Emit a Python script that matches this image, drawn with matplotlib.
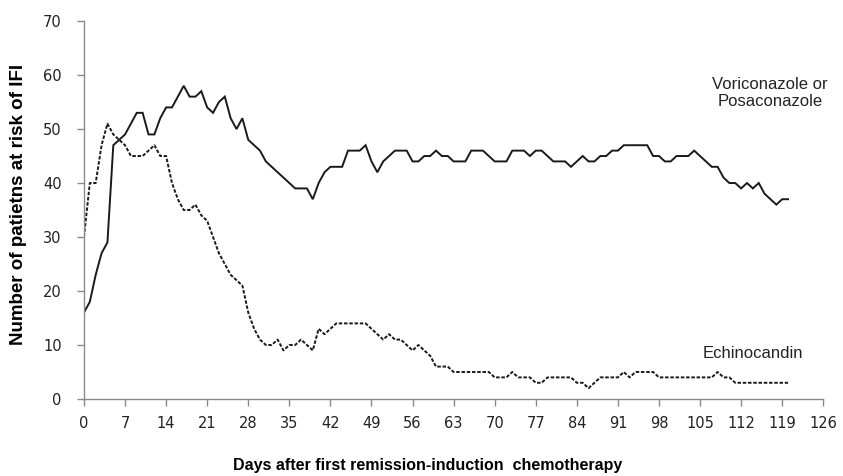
import matplotlib
matplotlib.use("Agg")
import matplotlib.pyplot as plt
import numpy as np

days = list(range(0, 121))

vori_posa = [16, 18, 23, 27, 29, 47, 48, 49, 51, 53,
             53, 49, 49, 52, 54, 54, 56, 58, 56, 56,
             57, 54, 53, 55, 56, 52, 50, 52, 48, 47,
             46, 44, 43, 42, 41, 40, 39, 39, 39, 37,
             40, 42, 43, 43, 43, 46, 46, 46, 47, 44,
             42, 44, 45, 46, 46, 46, 44, 44, 45, 45,
             46, 45, 45, 44, 44, 44, 46, 46, 46, 45,
             44, 44, 44, 46, 46, 46, 45, 46, 46, 45,
             44, 44, 44, 43, 44, 45, 44, 44, 45, 45,
             46, 46, 47, 47, 47, 47, 47, 45, 45, 44,
             44, 45, 45, 45, 46, 45, 44, 43, 43, 41,
             40, 40, 39, 40, 39, 40, 38, 37, 36, 37,
             37]

echino = [30, 40, 40, 47, 51, 49, 48, 47, 45, 45,
          45, 46, 47, 45, 45, 40, 37, 35, 35, 36,
          34, 33, 30, 27, 25, 23, 22, 21, 16, 13,
          11, 10, 10, 11, 9, 10, 10, 11, 10, 9,
          13, 12, 13, 14, 14, 14, 14, 14, 14, 13,
          12, 11, 12, 11, 11, 10, 9, 10, 9, 8,
          6, 6, 6, 5, 5, 5, 5, 5, 5, 5,
          4, 4, 4, 5, 4, 4, 4, 3, 3, 4,
          4, 4, 4, 4, 3, 3, 2, 3, 4, 4,
          4, 4, 5, 4, 5, 5, 5, 5, 4, 4,
          4, 4, 4, 4, 4, 4, 4, 4, 5, 4,
          4, 3, 3, 3, 3, 3, 3, 3, 3, 3,
          3]

xticks = list(range(0, 127, 7))
yticks = list(range(0, 71, 10))

fig = plt.figure(figsize=(8.43, 4.76), dpi=100)
ax = fig.add_axes([0.0996, 0.1618, 0.877, 0.794])

ax.plot(days, vori_posa, color="#1a1a1a", lw=1.4, solid_joinstyle="miter")
ax.plot(days, echino, color="#1a1a1a", lw=1.4, linestyle=(0, (1.8, 0.9)))

ax.set_xlim(0, 126)
ax.set_ylim(0, 70)
ax.set_xticks(xticks)
ax.set_yticks(yticks)

gray = "#8a8a8a"
for s in ["top", "right"]:
    ax.spines[s].set_visible(False)
for s in ["left", "bottom"]:
    ax.spines[s].set_color(gray)
    ax.spines[s].set_linewidth(1.0)
ax.tick_params(axis="both", colors=gray, labelcolor="#222222", labelsize=10.5,
               length=5, width=1.0, direction="out")
ax.tick_params(axis="x", pad=7)
ax.tick_params(axis="y", pad=11)
for lab in ax.get_xticklabels() + ax.get_yticklabels():
    lab.set_family("DejaVu Sans")

ax.set_ylabel("Number of patietns at risk of IFI", fontsize=13.5, fontweight="bold",
              family=["Liberation Sans", "DejaVu Sans"])
ax.yaxis.set_label_coords(-0.077, 0.516)
ax.set_xlabel("Days after first remission-induction  chemotherapy", fontsize=11.5,
              fontweight="bold", family=["Liberation Sans", "DejaVu Sans"],
              va="center")
ax.xaxis.set_label_coords(0.465, -0.175)

fig.text(770 / 843, 1 - 93 / 476, "Voriconazole or\nPosaconazole", ha="center",
         va="center", fontsize=12, color="#222222",
         family=["Liberation Sans", "DejaVu Sans"], linespacing=1.2)
fig.text(753 / 843, 1 - 353 / 476, "Echinocandin", ha="center", va="center",
         fontsize=12, color="#222222", family=["Liberation Sans", "DejaVu Sans"])

fig.savefig("out.png", dpi=100)
